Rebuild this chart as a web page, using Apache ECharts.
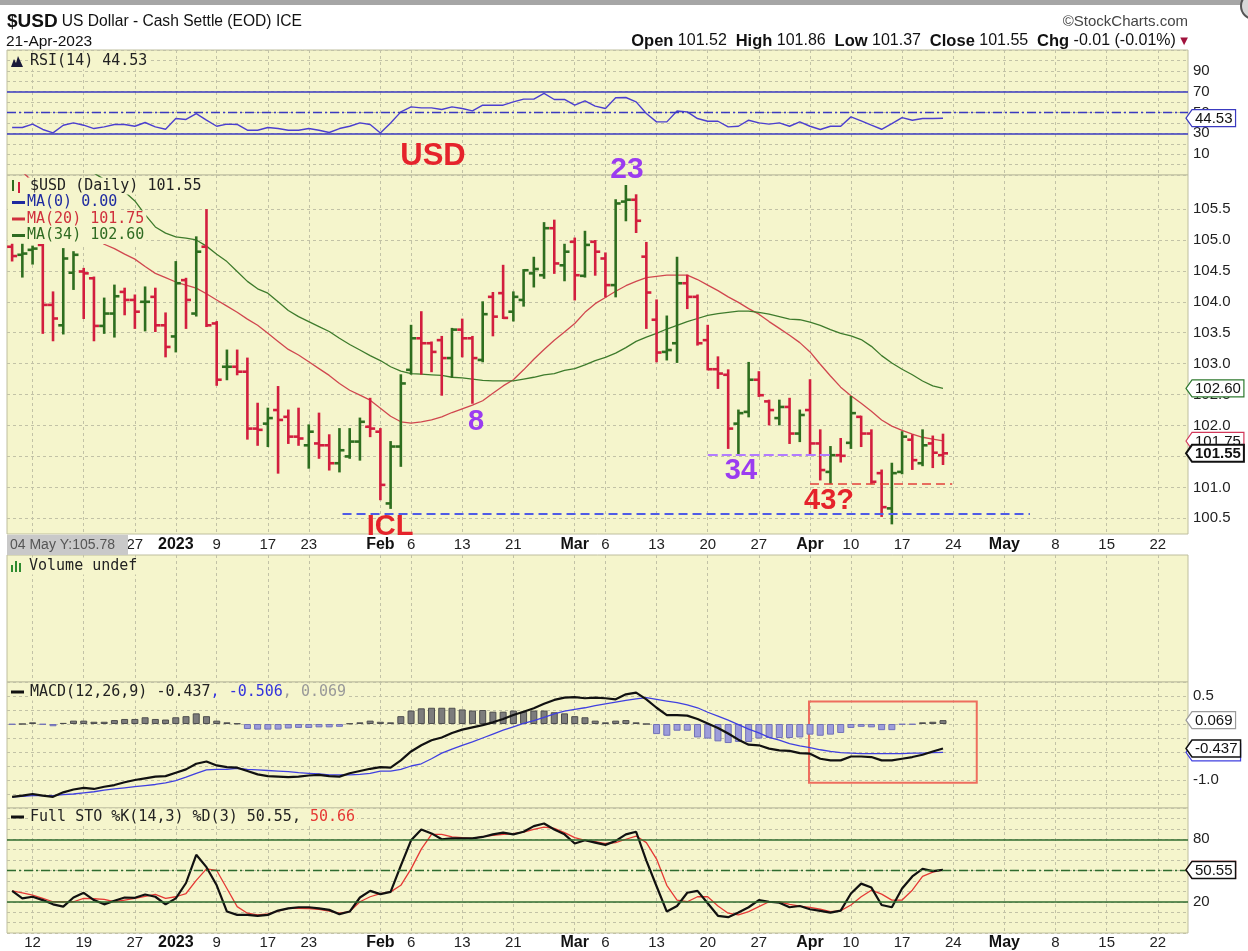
<!DOCTYPE html>
<html><head><meta charset="utf-8">
<script src="https://cdn.jsdelivr.net/npm/echarts@6/dist/echarts.min.js"></script>
<style>html,body{margin:0;padding:0;background:#fff}#c{width:1248px;height:951px}</style>
</head><body><div id="c"></div>
<script>
// ---------------- DATA ----------------
const dates = ['2022-12-08','2022-12-09','2022-12-12','2022-12-13','2022-12-14','2022-12-15','2022-12-16','2022-12-19','2022-12-20','2022-12-21','2022-12-22','2022-12-23','2022-12-27','2022-12-28','2022-12-29','2022-12-30',
'2023-01-03','2023-01-04','2023-01-05','2023-01-06','2023-01-09','2023-01-10','2023-01-11','2023-01-12','2023-01-13','2023-01-17','2023-01-18','2023-01-19','2023-01-20','2023-01-23','2023-01-24','2023-01-25','2023-01-26','2023-01-27','2023-01-30','2023-01-31',
'2023-02-01','2023-02-02','2023-02-03','2023-02-06','2023-02-07','2023-02-08','2023-02-09','2023-02-10','2023-02-13','2023-02-14','2023-02-15','2023-02-16','2023-02-17','2023-02-21','2023-02-22','2023-02-23','2023-02-24','2023-02-27','2023-02-28',
'2023-03-01','2023-03-02','2023-03-03','2023-03-06','2023-03-07','2023-03-08','2023-03-09','2023-03-10','2023-03-13','2023-03-14','2023-03-15','2023-03-16','2023-03-17','2023-03-20','2023-03-21','2023-03-22','2023-03-23','2023-03-24','2023-03-27','2023-03-28','2023-03-29','2023-03-30','2023-03-31',
'2023-04-03','2023-04-04','2023-04-05','2023-04-06','2023-04-10','2023-04-11','2023-04-12','2023-04-13','2023-04-14','2023-04-17','2023-04-18','2023-04-19','2023-04-20','2023-04-21'];

const open = [104.89,104.76,104.84,104.92,103.95,103.62,104.47,104.49,104.38,103.61,
103.81,104.16,104.03,104.00,104.08,103.62,103.44,104.35,103.81,104.89,
103.65,102.95,102.95,102.87,101.95,102.03,102.25,102.14,101.82,101.68,
101.71,101.68,101.39,101.50,101.74,101.98,101.90,100.74,101.66,102.90,
103.41,103.33,103.38,103.09,103.55,103.41,103.06,104.08,104.14,103.84,
104.03,104.46,104.43,105.19,104.59,104.97,104.42,104.97,104.70,104.27,
105.62,105.65,104.73,103.71,103.19,103.33,104.30,104.08,103.38,102.91,
102.82,102.03,102.22,102.74,102.39,102.12,102.30,101.87,102.25,101.71,
101.25,101.52,101.72,102.14,101.87,101.23,100.66,101.25,101.77,101.39,
101.71,101.52];
const high = [104.93,104.93,104.90,104.93,104.16,104.86,104.81,104.54,104.40,104.06,
104.27,104.22,104.11,104.24,104.22,103.82,104.65,104.38,105.05,105.49,
103.68,103.22,103.22,103.09,102.36,102.28,102.63,102.25,102.28,102.01,
102.20,101.85,101.95,101.95,102.12,102.44,101.95,101.74,102.82,103.62,
103.84,103.35,103.44,103.57,103.72,103.44,104.00,104.15,104.59,104.16,
104.52,104.72,105.28,105.32,104.93,105.03,105.14,104.99,104.79,105.65,
105.88,105.73,104.96,104.03,103.77,104.72,104.43,104.11,103.62,103.11,
102.90,102.25,103.02,102.87,102.41,102.41,102.44,102.25,102.74,101.93,
101.66,101.79,102.47,102.15,101.93,101.28,101.39,101.90,101.85,101.93,
101.83,101.86];
const low = [104.66,104.40,104.61,103.49,103.37,103.48,104.20,103.73,103.37,103.49,
103.43,103.79,103.57,103.53,103.52,103.11,103.19,103.57,103.77,103.60,
102.65,102.74,102.82,101.78,101.68,101.66,101.23,101.71,101.68,101.31,
101.47,101.28,101.25,101.47,101.44,101.82,100.80,100.66,101.34,102.83,
102.83,102.87,102.49,102.78,103.11,102.36,103.03,103.45,103.73,103.69,
103.93,104.24,104.38,104.46,104.34,104.03,104.40,104.43,104.08,104.08,
105.31,105.12,103.57,103.03,103.06,103.02,103.89,103.30,102.90,102.60,
101.63,101.52,102.14,102.47,102.01,102.01,101.71,101.74,101.52,101.12,
101.06,101.41,101.63,101.66,101.06,100.53,100.41,101.22,101.29,101.35,
101.32,101.37];
const close = [104.74,104.78,104.86,103.95,103.73,104.70,104.76,104.46,103.61,103.81,
104.09,104.03,103.84,104.00,103.62,103.27,104.30,104.03,104.81,103.62,
102.74,102.95,102.87,101.95,101.93,102.12,102.09,101.82,101.79,101.90,
101.68,101.39,101.60,101.74,102.06,101.95,101.04,101.66,102.68,103.41,
103.33,103.19,103.09,103.55,103.41,103.09,103.80,103.76,103.74,104.08,
104.51,104.53,105.19,104.62,104.81,104.43,104.92,104.81,104.27,105.59,
105.65,105.31,104.15,103.18,103.22,104.30,104.08,103.33,102.91,102.84,
101.95,102.20,102.74,102.49,102.25,102.30,101.87,102.17,101.71,101.28,
101.52,101.51,102.20,101.87,101.09,100.68,101.23,101.82,101.44,101.68,
101.56,101.55];
const ma20 = [106.25,106.10,105.95,105.80,105.65,105.50,105.35,105.20,105.05,104.93,
104.86,104.77,104.69,104.57,104.46,104.39,104.32,104.27,104.22,104.13,
104.03,103.93,103.83,103.72,103.62,103.49,103.36,103.23,103.14,103.03,
102.92,102.81,102.68,102.57,102.49,102.41,102.28,102.15,102.06,102.04,
102.06,102.09,102.14,102.21,102.27,102.33,102.40,102.52,102.64,102.74,
102.90,103.07,103.23,103.38,103.51,103.65,103.83,103.97,104.07,104.17,
104.26,104.33,104.39,104.41,104.43,104.43,104.43,104.36,104.27,104.18,
104.08,103.99,103.89,103.80,103.68,103.57,103.46,103.34,103.19,102.99,
102.80,102.62,102.48,102.36,102.23,102.09,101.99,101.92,101.86,101.81,
101.78,101.75];
const ma34 = [106.90,106.80,106.70,106.60,106.50,106.40,106.30,106.20,106.08,105.98,
105.88,105.78,105.63,105.41,105.21,105.11,105.05,105.03,105.00,104.90,
104.77,104.65,104.49,104.33,104.21,104.14,104.00,103.86,103.76,103.68,
103.60,103.52,103.41,103.31,103.22,103.13,103.05,102.95,102.88,102.84,
102.83,102.82,102.81,102.78,102.77,102.75,102.73,102.72,102.72,102.72,
102.75,102.78,102.82,102.84,102.89,102.92,102.98,103.05,103.10,103.17,
103.26,103.36,103.43,103.49,103.56,103.62,103.68,103.73,103.78,103.81,
103.83,103.85,103.85,103.83,103.80,103.76,103.72,103.71,103.67,103.62,
103.55,103.49,103.45,103.39,103.28,103.13,103.01,102.91,102.82,102.72,
102.64,102.60];
const rsi = [35.6,35.6,38.8,33.7,30.4,37.8,40.0,37.8,34.6,36.2,
38.5,38.5,36.8,40.4,36.2,33.9,44.2,43.3,49.0,42.6,
36.8,38.8,38.5,33.0,33.0,35.6,34.6,33.0,33.0,34.6,
33.0,30.8,34.6,36.8,40.0,38.5,30.4,40.0,50.6,55.4,
54.4,54.4,52.9,55.4,53.8,51.5,57.0,57.0,57.0,60.2,
62.8,62.8,68.3,62.5,62.5,57.0,61.2,56.1,53.8,64.1,
64.4,60.2,49.0,41.0,41.0,51.5,50.6,44.2,41.6,41.6,
36.2,36.8,42.6,40.0,38.8,40.0,36.8,41.0,36.8,33.7,
36.8,36.8,45.8,42.0,37.8,33.9,39.4,45.1,42.6,44.2,
44.2,44.53];
const macd = [-1.30,-1.28,-1.25,-1.28,-1.30,-1.22,-1.17,-1.14,-1.16,-1.12,
-1.09,-1.04,-1.00,-0.97,-0.94,-0.93,-0.87,-0.81,-0.71,-0.67,
-0.74,-0.77,-0.78,-0.84,-0.90,-0.93,-0.94,-0.95,-0.94,-0.92,
-0.91,-0.93,-0.94,-0.88,-0.84,-0.80,-0.77,-0.78,-0.65,-0.49,
-0.38,-0.29,-0.24,-0.16,-0.10,-0.06,-0.02,0.03,0.09,0.16,
0.22,0.28,0.36,0.43,0.47,0.48,0.46,0.47,0.46,0.44,
0.53,0.56,0.44,0.29,0.16,0.16,0.15,0.09,0.01,-0.07,
-0.17,-0.28,-0.37,-0.38,-0.44,-0.47,-0.48,-0.52,-0.53,-0.62,
-0.65,-0.65,-0.58,-0.58,-0.59,-0.65,-0.65,-0.62,-0.59,-0.55,
-0.49,-0.437];
const signal = [-1.30,-1.29,-1.28,-1.28,-1.28,-1.26,-1.25,-1.23,-1.21,-1.18,
-1.16,-1.14,-1.12,-1.10,-1.08,-1.05,-1.01,-0.95,-0.88,-0.82,
-0.81,-0.81,-0.79,-0.81,-0.82,-0.83,-0.84,-0.85,-0.87,-0.88,
-0.89,-0.91,-0.91,-0.91,-0.90,-0.88,-0.84,-0.84,-0.81,-0.75,
-0.71,-0.62,-0.52,-0.45,-0.38,-0.32,-0.25,-0.18,-0.11,-0.05,
0.01,0.06,0.12,0.18,0.23,0.26,0.29,0.33,0.36,0.39,
0.42,0.45,0.47,0.44,0.41,0.38,0.34,0.29,0.21,0.14,
0.07,-0.01,-0.09,-0.16,-0.24,-0.29,-0.35,-0.39,-0.42,-0.46,
-0.49,-0.51,-0.52,-0.53,-0.53,-0.53,-0.53,-0.53,-0.52,-0.52,
-0.51,-0.506];
const hist = [-0.01,0.00,0.03,-0.01,-0.04,0.02,0.06,0.06,0.04,0.04,
0.07,0.09,0.09,0.12,0.09,0.08,0.12,0.14,0.19,0.14,
0.06,0.03,0.01,-0.09,-0.10,-0.10,-0.10,-0.08,-0.07,-0.07,
-0.06,-0.06,-0.05,0.01,0.03,0.06,0.04,0.03,0.14,0.24,
0.28,0.29,0.29,0.29,0.26,0.24,0.25,0.22,0.22,0.24,
0.22,0.24,0.24,0.21,0.19,0.14,0.12,0.06,0.03,0.06,
0.07,0.03,0.00,-0.18,-0.21,-0.12,-0.12,-0.24,-0.26,-0.31,
-0.34,-0.32,-0.32,-0.26,-0.25,-0.25,-0.25,-0.24,-0.19,-0.21,
-0.19,-0.16,-0.07,-0.05,-0.06,-0.11,-0.11,-0.01,-0.01,0.03,
0.04,0.069];
const stoK = [30.4,23.2,24.8,21.6,17.5,15.3,24.1,28.6,21.6,17.5,
21.0,24.1,23.8,27.0,24.8,17.5,23.2,38.0,65.1,53.2,
35.8,10.6,7.4,7.4,6.5,7.4,11.5,13.7,14.7,14.7,
13.7,12.2,8.1,10.6,24.1,30.4,27.3,29.5,54.7,79.0,
89.4,85.6,80.0,80.9,80.9,80.9,82.2,84.7,86.3,84.7,
87.2,92.6,95.1,89.4,84.7,75.9,79.0,76.8,74.6,78.4,
84.7,87.2,59.5,34.9,10.6,15.9,28.6,30.4,18.5,6.5,
5.2,9.6,14.7,21.6,20.0,19.1,14.7,15.9,12.8,11.2,
9.6,11.5,27.9,37.4,33.6,16.9,14.7,32.7,44.3,51.6,
49.4,50.55];
const stoD = [30.4,28.6,26.3,23.2,20.0,20.0,20.0,23.2,22.9,22.2,
20.0,21.6,23.2,25.1,27.0,23.2,24.8,27.9,40.5,51.6,
50.0,32.7,15.3,9.0,7.4,8.4,10.9,13.7,13.7,13.4,
12.8,10.9,9.0,10.6,20.0,24.8,27.9,29.5,35.8,51.6,
70.5,84.7,84.7,82.2,81.5,80.9,82.5,83.7,84.7,85.3,
86.9,89.4,91.6,90.4,86.3,81.5,79.0,77.8,75.9,76.8,
80.0,83.1,76.8,61.0,35.8,21.6,20.0,24.8,24.8,15.9,
9.0,7.4,10.6,15.3,20.0,20.0,17.5,15.9,14.7,12.8,
10.6,11.5,16.9,24.8,31.1,27.3,21.6,21.6,31.1,44.3,
48.4,50.66];
// date ticks: trading-day index -> label
const tickIdx = [2,7,12,16,20,25,29,36,39,44,49,55,58,63,68,73,78,82,87,92,97,102,107,112];
const tickLabels = ['12','19','27','2023','9','17','23','Feb','6','13','21','Mar','6','13','20','27','Apr','10','17','24','May','8','15','22'];
const priceTicks = [100.5,101,101.5,102,102.5,103,103.5,104,104.5,105,105.5];
const rsiLabels = [10,30,50,70,90];
const macdLabels = [0.5,-1];
const stoLabels = [20,50,80];

// ---------------- STYLE / LAYOUT ----------------
const X_MIN = -0.5, X_MAX = 114.95;
const PANEL_BG = '#F5F5CC', PANEL_BORDER = '#BEBE9E', GRIDC = '#C2C2A6';
const UP = '#2E6E1F', DOWN = '#D21E3E';
const AX = 'Liberation Sans', LG = 'DejaVu Sans Mono';
const last = a => a[a.length - 1];

function fmtX(v) {
  const k = tickIdx.indexOf(Math.round(v));
  if (k < 0) return '';
  const s = tickLabels[k];
  return /^[0-9]{1,2}$/.test(s) ? s : '{b|' + s + '}';
}
function xAx(gi, show, margin) {
  return {
    type: 'value', gridIndex: gi, min: X_MIN, max: X_MAX,
    axisLine: {show: false},
    axisTick: {show: false, customValues: tickIdx},
    axisLabel: {show: show, customValues: tickIdx, formatter: fmtX, margin: margin || 3,
      color: '#222', fontFamily: AX, fontSize: 15,
      rich: {b: {fontWeight: 'bold', fontSize: 16, fontFamily: AX, color: '#111'}}},
    splitLine: {show: true, lineStyle: {color: GRIDC, type: [3, 3], width: 1}}
  };
}
const yLab = {color: '#222', fontFamily: AX, fontSize: 15, margin: 5};
const ySplit = {show: true, lineStyle: {color: GRIDC, type: [3, 3], width: 1}};
const gridBase = {left: 7, width: 1181, show: true, backgroundColor: PANEL_BG, borderColor: PANEL_BORDER, borderWidth: 1, containLabel: false, outerBoundsMode: 'none'};

const ohlcData = dates.map((d, i) => {
  const prev = i > 0 ? close[i - 1] : open[i];
  return [i, open[i], high[i], low[i], close[i], close[i] >= prev ? 1 : 0];
});
function renderBar(params, api) {
  const i = api.value(0);
  const o = api.coord([i, api.value(1)]);
  const h = api.coord([i, api.value(2)]);
  const l = api.coord([i, api.value(3)]);
  const c = api.coord([i, api.value(4)]);
  const col = api.value(5) ? UP : DOWN;
  const x = h[0];
  const st = {stroke: col, lineWidth: 2.6};
  return {type: 'group', children: [
    {type: 'line', shape: {x1: x, y1: h[1] - 0.5, x2: x, y2: l[1] + 0.5}, style: st},
    {type: 'line', shape: {x1: x - 5, y1: o[1], x2: x, y2: o[1]}, style: st},
    {type: 'line', shape: {x1: x, y1: c[1], x2: x + 5, y2: c[1]}, style: st}
  ]};
}
const pts = a => a.map((v, i) => [i, v]);
const lineS = (xi, data, color, width, extra) => Object.assign({
  type: 'line', xAxisIndex: xi, yAxisIndex: xi, data: pts(data), symbol: 'none', showSymbol: false,
  silent: true, lineStyle: {color: color, width: width}, z: 3
}, extra || {});

const option = {
  animation: false,
  backgroundColor: '#ffffff',
  grid: [
    Object.assign({top: 50, height: 125}, gridBase),
    Object.assign({top: 175, height: 359}, gridBase),
    Object.assign({top: 555, height: 127}, gridBase),
    Object.assign({top: 682, height: 126}, gridBase),
    Object.assign({top: 808, height: 125}, gridBase)
  ],
  xAxis: [xAx(0, false), xAx(1, true, 3), xAx(2, false), xAx(3, false), xAx(4, true, 2)],
  yAxis: [
    {type: 'value', gridIndex: 0, position: 'right', min: -10, max: 110, interval: 10,
      axisLine: {show: false}, axisTick: {show: false},
      axisLabel: Object.assign({formatter: v => rsiLabels.includes(v) ? String(v) : ''}, yLab), splitLine: ySplit},
    {type: 'value', gridIndex: 1, position: 'right', min: 100.246, max: 106.05,
      axisLine: {show: false}, axisTick: {show: false, customValues: priceTicks},
      axisLabel: Object.assign({customValues: priceTicks, formatter: v => v.toFixed(1)}, yLab), splitLine: ySplit},
    {type: 'value', gridIndex: 2, position: 'right', min: 0, max: 1, show: false},
    {type: 'value', gridIndex: 3, position: 'right', min: -1.5, max: 0.75, interval: 0.25,
      axisLine: {show: false}, axisTick: {show: false},
      axisLabel: Object.assign({formatter: v => macdLabels.includes(v) ? v.toFixed(1) : ''}, yLab), splitLine: ySplit},
    {type: 'value', gridIndex: 4, position: 'right', min: -10, max: 110, interval: 10,
      axisLine: {show: false}, axisTick: {show: false},
      axisLabel: Object.assign({formatter: v => stoLabels.includes(v) ? String(v) : ''}, yLab), splitLine: ySplit}
  ],
  series: [
    lineS(0, rsi, '#4B3FCF', 1.4, {markLine: {silent: true, symbol: ['none', 'none'], label: {show: false}, data: [
      {yAxis: 70, lineStyle: {color: '#3A3AC0', width: 1.6, type: 'solid'}},
      {yAxis: 30, lineStyle: {color: '#3A3AC0', width: 1.6, type: 'solid'}},
      {yAxis: 50, lineStyle: {color: '#3A3AC0', width: 1.4, type: [9, 3, 2, 3]}}
    ]}}),
    {type: 'custom', xAxisIndex: 1, yAxisIndex: 1, data: ohlcData, renderItem: renderBar, silent: true, z: 4,
      encode: {x: 0, y: [1, 2, 3, 4]}},
    lineS(1, ma20, '#D0474F', 1.3),
    lineS(1, ma34, '#3E7B2C', 1.3, {markLine: {silent: true, symbol: ['none', 'none'], label: {show: false}, data: [
      [{coord: [32.3, 100.58], lineStyle: {color: '#4F5BE6', width: 2, type: [9, 5]}}, {coord: [99.5, 100.58]}],
      [{coord: [68, 101.52], lineStyle: {color: '#B27CFF', width: 2, type: [10, 4]}}, {coord: [80.3, 101.52]}],
      [{coord: [78, 101.06], lineStyle: {color: '#E2403A', width: 1.6, type: [9, 5]}}, {coord: [91.9, 101.06]}]
    ]}}),
    {type: 'bar', xAxisIndex: 3, yAxisIndex: 3, barWidth: 7, silent: true, z: 2,
      data: hist.map((v, i) => ({value: [i, v], itemStyle: v >= 0
        ? {color: '#7C7C7C', borderColor: '#4E4E4E', borderWidth: 1}
        : {color: '#9C9CDA', borderColor: '#7171B8', borderWidth: 1}}))},
    lineS(3, signal, '#4040E0', 1.3),
    lineS(3, macd, '#111111', 2.2, {markArea: {silent: true,
      itemStyle: {color: 'rgba(0,0,0,0)', borderColor: '#EE6E5E', borderWidth: 2},
      data: [[{coord: [77.9, 0.40]}, {coord: [94.3, -1.05]}]]}}),
    lineS(4, stoD, '#E53935', 1.3, {markLine: {silent: true, symbol: ['none', 'none'], label: {show: false}, data: [
      {yAxis: 80, lineStyle: {color: '#2F6B2F', width: 1.5, type: 'solid'}},
      {yAxis: 20, lineStyle: {color: '#2F6B2F', width: 1.5, type: 'solid'}},
      {yAxis: 50, lineStyle: {color: '#2F6B2F', width: 1.4, type: [9, 3, 2, 3]}}
    ]}}),
    lineS(4, stoK, '#111111', 2.2)
  ]
};

const chart = echarts.init(document.getElementById('c'), null, {renderer: 'canvas', width: 1248, height: 951});
chart.setOption(option);

// ---------------- GRAPHICS (texts, legends, value tags) ----------------
const Z = 100;
const g = [];
function txt(x, y, text, font, fill, extra) {
  const s = Object.assign({text: text, font: font, fill: fill, verticalAlign: 'middle', textVerticalAlign: 'middle'}, extra || {});
  return {type: 'text', x: x, y: y, z: Z, style: s};
}
function rt(size, color, bold, fam) {
  return {fontSize: size, fontFamily: fam || AX, fontWeight: bold ? 'bold' : 'normal', fill: color, color: color};
}
function dash(x, y, color) {
  g.push({type: 'rect', z: Z, shape: {x: x, y: y - 1.5, width: 13, height: 3}, style: {fill: color}});
}
g.push({type: 'rect', z: Z, shape: {x: 0, y: 0, width: 1248, height: 5}, style: {fill: '#A6A6A6'}});
g.push({type: 'circle', z: Z, shape: {cx: 1254, cy: 6, r: 13}, style: {fill: '#D8D8D8', stroke: '#555', lineWidth: 2}});
g.push(txt(7, 22, '{a|$USD} {b|US Dollar - Cash Settle (EOD) ICE}', '15px ' + AX, '#111',
  {rich: {a: rt(19, '#111', true), b: rt(15.6, '#111')}}));
g.push(txt(6, 42, '21-Apr-2023', '15.5px "Liberation Sans"', '#111'));
g.push(txt(1188, 22, '\u00A9StockCharts.com', '15px "Liberation Sans"', '#444', {align: 'right', textAlign: 'right'}));
const n = close.length;
const chg = close[n - 1] - close[n - 2];
const pct = chg / close[n - 2] * 100;
g.push(txt(1188, 41,
  '{l|Open} {v|' + open[n - 1].toFixed(2) + '}  {l|High} {v|' + high[n - 1].toFixed(2) + '}  {l|Low} {v|' + low[n - 1].toFixed(2) +
  '}  {l|Close} {v|' + close[n - 1].toFixed(2) + '}  {l|Chg} {v|' + chg.toFixed(2) + ' (' + pct.toFixed(2) + '%)} {t|\u25BC}',
  '16px ' + AX, '#111', {align: 'right', textAlign: 'right',
    rich: {l: rt(16.5, '#111', true), v: rt(16, '#111'), t: rt(10, '#A0123C', false, 'DejaVu Sans')}}));

// legend rows (opaque, like the source)
const lgFont = '15px "DejaVu Sans Mono"';
const lgBox = {backgroundColor: PANEL_BG, padding: [1, 2]};
g.push({type: 'polygon', z: Z, shape: {points: [[11, 67], [14, 59], [16, 63], [18, 56], [23, 67]]}, style: {fill: '#1a1a3a'}});
g.push(txt(28, 61, 'RSI(14) ' + last(rsi).toFixed(2), lgFont, '#222', lgBox));
g.push({type: 'rect', z: Z, shape: {x: 12, y: 180, width: 2, height: 11}, style: {fill: UP}});
g.push({type: 'rect', z: Z, shape: {x: 18, y: 182, width: 2, height: 11}, style: {fill: DOWN}});
g.push(txt(28, 186, '$USD (Daily) ' + last(close).toFixed(2), lgFont, '#222', lgBox));
g.push({type: 'rect', z: Z - 1, shape: {x: 8, y: 195, width: 20, height: 48}, style: {fill: PANEL_BG}});
dash(12, 202.5, '#1E2AA0');
g.push(txt(25, 202.5, 'MA(0) 0.00', lgFont, '#1E2AA0', lgBox));
dash(12, 219, '#D0303C');
g.push(txt(25, 219, 'MA(20) ' + last(ma20).toFixed(2), lgFont, '#D0303C', lgBox));
dash(12, 235.5, '#2F6B22');
g.push(txt(25, 235.5, 'MA(34) ' + last(ma34).toFixed(2), lgFont, '#2F6B22', lgBox));
g.push({type: 'rect', z: Z, shape: {x: 11, y: 565, width: 2, height: 7}, style: {fill: '#2E8B2E'}});
g.push({type: 'rect', z: Z, shape: {x: 15, y: 561, width: 2, height: 11}, style: {fill: '#2E8B2E'}});
g.push({type: 'rect', z: Z, shape: {x: 19, y: 563, width: 2, height: 9}, style: {fill: '#2E8B2E'}});
g.push(txt(27, 566, 'Volume undef', lgFont, '#222', lgBox));
dash(11, 692, '#111');
g.push(txt(28, 692, 'MACD(12,26,9) ' + last(macd).toFixed(3) + '{s|, ' + last(signal).toFixed(3) + '}{h|, ' + last(hist).toFixed(3) + '}',
  lgFont, '#222', Object.assign({rich: {s: rt(15, '#3333DD', false, LG), h: rt(15, '#999', false, LG)}}, lgBox)));
dash(11, 817, '#111');
g.push(txt(28, 817, 'Full STO %K(14,3) %D(3) ' + last(stoK).toFixed(2) + ', {r|' + last(stoD).toFixed(2) + '}',
  lgFont, '#222', Object.assign({rich: {r: rt(15, '#E53935', false, LG)}}, lgBox)));

// crosshair readout box
g.push({type: 'rect', z: Z, shape: {x: 7, y: 535, width: 121, height: 20}, style: {fill: '#C9C9C9'}});
g.push(txt(10, 545.5, '04 May Y:105.78', '14px "Liberation Sans"', '#555'));

// annotations
const RED = '#E5232B', PUR = '#9B3CF0';
const ann = (x, y, t, c, s) => txt(x, y, t, 'bold ' + s + 'px "Liberation Sans"', c, {align: 'center', textAlign: 'center'});
g.push(ann(433, 156, 'USD', RED, 31));
g.push(ann(627, 170, '23', PUR, 30));
g.push(ann(476, 422, '8', PUR, 29));
g.push(ann(741, 471, '34', PUR, 29));
g.push(ann(829, 501, '43?', RED, 29));
g.push(ann(390, 527, 'ICL', RED, 29));

// value tags on the right axis (each one stacked above the previous)
let tz = Z + 10;
function tw(s) { let w = 0; for (const ch of s) w += (ch === '.' ? 4.2 : ch === '-' ? 5 : 8.34); return w; }
function tag(gi, value, text, border, bold, lw) {
  const y = chart.convertToPixel({xAxisIndex: gi, yAxisIndex: gi}, [0, value])[1];
  const x0 = 1186, h = 8.5, w = tw(text) + 6;
  g.push({type: 'polygon', z: tz++, shape: {points: [[x0, y], [x0 + 6, y - h], [x0 + 6 + w, y - h], [x0 + 6 + w, y + h], [x0 + 6, y + h]]},
    style: {fill: '#fff', stroke: border, lineWidth: lw || 1.2}});
  g.push({type: 'text', z: tz++, x: x0 + 6 + w / 2, y: y + 0.5, style: {text: text, font: (bold ? 'bold ' : '') + '15px "Liberation Sans"', fill: '#111',
    align: 'center', textAlign: 'center', verticalAlign: 'middle', textVerticalAlign: 'middle'}});
}
tag(0, last(rsi), last(rsi).toFixed(2), '#3A3AC0');
tag(1, last(ma34), last(ma34).toFixed(2), '#2F7A2F');
tag(1, last(ma20), last(ma20).toFixed(2), '#D2385A');
tag(1, last(close), last(close).toFixed(2), '#111', true, 2);
tag(3, last(hist), last(hist).toFixed(3), '#9A9A9A');
tag(3, last(signal), last(signal).toFixed(3), '#4040E0');
tag(3, last(macd), last(macd).toFixed(3), '#111', false, 1.5);
tag(4, last(stoD), last(stoD).toFixed(2), '#E53935');
tag(4, last(stoK), last(stoK).toFixed(2), '#111', false, 1.5);

chart.setOption({graphic: g});
</script>
</body></html>
